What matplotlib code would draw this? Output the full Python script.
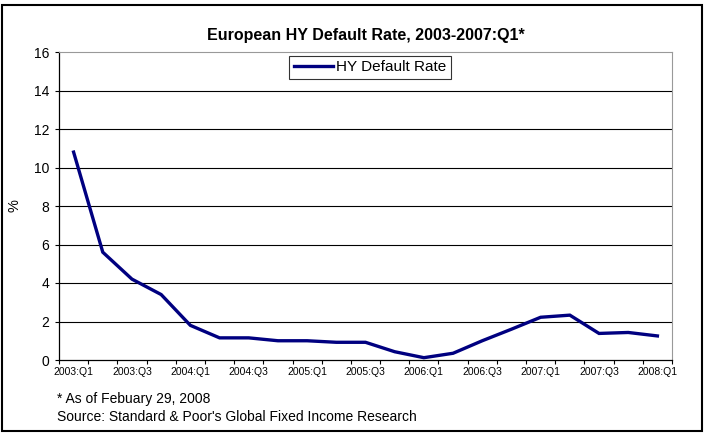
import matplotlib.pyplot as plt
from matplotlib.patches import Rectangle
import numpy as np

plt.rcParams['font.family'] = ['Liberation Sans', 'DejaVu Sans']

# quarterly European HY default rate, 2003:Q1 .. 2008:Q1
quarters = ['%d:Q%d' % (y, q) for y in range(2003, 2009) for q in range(1, 5)][:21]
default_rate = [10.8, 5.6, 4.2, 3.4, 1.8, 1.15, 1.15, 1.0, 1.0, 0.92, 0.92,
                0.43, 0.12, 0.35, 1.0, 1.6, 2.22, 2.33, 1.38, 1.43, 1.25]
tick_labels = quarters[::2]

fig = plt.figure(figsize=(7.04, 4.33), dpi=100)
ax = fig.add_axes([59/704, 1 - 360/433, (672 - 59)/704, (360 - 52)/433])

x = np.arange(len(quarters))
ax.plot(x, default_rate, color='#000080', lw=2.4, label='HY Default Rate',
        solid_joinstyle='miter')

ax.set_xlim(-0.5, len(quarters) - 0.5)
ax.set_ylim(0, 16)
ax.set_yticks(range(0, 17, 2))
ax.set_xticks(x[::2])
ax.set_xticklabels(tick_labels, fontsize=7.5)
ax.set_xticks(np.arange(-0.5, len(quarters), 1), minor=True)
ax.tick_params(axis='x', which='major', length=0, pad=5)
ax.tick_params(axis='x', which='minor', length=3, width=0.8, direction='out')
ax.tick_params(axis='y', length=3, width=0.8, labelsize=10, pad=4)

for v in range(2, 16, 2):
    ax.axhline(v, color='black', lw=0.8, zorder=0)

ax.spines['top'].set_color('#999999')
ax.spines['right'].set_color('#999999')
ax.spines['left'].set_linewidth(0.9)
ax.spines['bottom'].set_linewidth(0.9)

ax.set_ylabel('%', fontsize=10.5, labelpad=9)
ax.set_title('European HY Default Rate, 2003-2007:Q1*', fontsize=11.5,
             fontweight='bold', pad=9)

leg = ax.legend(loc='upper center', bbox_to_anchor=(0.507, 0.998), fontsize=11,
                frameon=True, fancybox=False, handlelength=2.6,
                handletextpad=0.15, borderpad=0.3, borderaxespad=0.2)
leg.get_frame().set_edgecolor('black')
leg.get_frame().set_linewidth(0.8)

fig.text(57/704, 1 - 399/433, '* As of Febuary 29, 2008', fontsize=10, va='center')
fig.text(57/704, 1 - 417/433, "Source: Standard & Poor's Global Fixed Income Research",
         fontsize=10, va='center')

fig.patches.append(Rectangle((0.003, 0.004), 0.994, 0.985, transform=fig.transFigure,
                             fill=False, edgecolor='black', lw=1.5))

fig.savefig('out.png', dpi=100)
